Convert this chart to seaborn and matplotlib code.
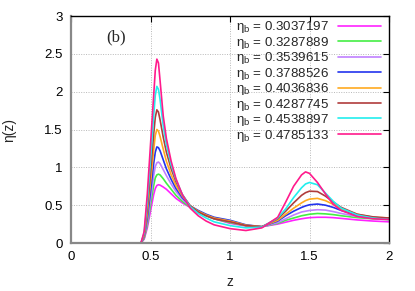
import matplotlib
matplotlib.use("Agg")
import matplotlib.pyplot as plt
import seaborn as sns
import pandas as pd

z = [0.0, 0.44, 0.46, 0.48, 0.50, 0.52, 0.53, 0.54, 0.55, 0.56, 0.58, 0.60, 0.63, 0.66,
     0.70, 0.75, 0.80, 0.85, 0.90, 1.0, 1.1, 1.2, 1.3, 1.35, 1.4, 1.45, 1.475, 1.5, 1.55,
     1.6, 1.65, 1.7, 1.8, 1.9, 2.0]

eta_b = ["0.3037197", "0.3287889", "0.3539615", "0.3788526",
         "0.4036836", "0.4287745", "0.4538897", "0.4785133"]

eta_1 = [0, 0, 0.05, 0.20, 0.42, 0.64, 0.72, 0.76, 0.77, 0.765, 0.74, 0.71, 0.65, 0.59,
         0.53, 0.47, 0.41, 0.36, 0.32, 0.26, 0.225, 0.215, 0.25, 0.275, 0.30, 0.32, 0.328,
         0.335, 0.34, 0.34, 0.335, 0.325, 0.305, 0.29, 0.28]
eta_2 = [0, 0, 0.06, 0.24, 0.50, 0.76, 0.86, 0.90, 0.91, 0.90, 0.85, 0.79, 0.71, 0.63,
         0.55, 0.47, 0.41, 0.36, 0.32, 0.27, 0.23, 0.215, 0.26, 0.30, 0.33, 0.36, 0.37,
         0.38, 0.39, 0.385, 0.375, 0.36, 0.335, 0.32, 0.31]
eta_3 = [0, 0, 0.07, 0.28, 0.58, 0.89, 1.01, 1.06, 1.07, 1.05, 0.97, 0.89, 0.78, 0.68,
         0.58, 0.48, 0.42, 0.37, 0.33, 0.28, 0.235, 0.215, 0.27, 0.32, 0.37, 0.41, 0.42,
         0.43, 0.44, 0.435, 0.415, 0.39, 0.35, 0.33, 0.32]
eta_4 = [0, 0, 0.08, 0.33, 0.68, 1.05, 1.20, 1.27, 1.26, 1.22, 1.10, 0.98, 0.84, 0.72,
         0.60, 0.49, 0.43, 0.38, 0.34, 0.30, 0.24, 0.215, 0.29, 0.36, 0.42, 0.47, 0.49,
         0.505, 0.515, 0.50, 0.47, 0.43, 0.37, 0.34, 0.32]
eta_5 = [0, 0, 0.09, 0.39, 0.80, 1.23, 1.42, 1.50, 1.48, 1.41, 1.24, 1.08, 0.90, 0.76,
         0.62, 0.49, 0.42, 0.37, 0.33, 0.29, 0.235, 0.215, 0.30, 0.38, 0.46, 0.53, 0.56,
         0.58, 0.59, 0.56, 0.51, 0.45, 0.38, 0.34, 0.33]
eta_6 = [0, 0, 0.11, 0.46, 0.93, 1.44, 1.66, 1.76, 1.73, 1.63, 1.40, 1.20, 0.98, 0.81,
         0.64, 0.49, 0.41, 0.36, 0.32, 0.28, 0.23, 0.215, 0.32, 0.42, 0.53, 0.63, 0.665,
         0.685, 0.68, 0.62, 0.54, 0.47, 0.38, 0.345, 0.33]
eta_7 = [0, 0, 0.13, 0.54, 1.10, 1.68, 1.95, 2.07, 2.03, 1.90, 1.55, 1.30, 1.03, 0.84,
         0.64, 0.48, 0.39, 0.33, 0.28, 0.23, 0.20, 0.21, 0.33, 0.45, 0.60, 0.73, 0.78,
         0.80, 0.77, 0.66, 0.55, 0.46, 0.37, 0.33, 0.31]
eta_8 = [0, 0, 0.15, 0.65, 1.30, 1.95, 2.28, 2.43, 2.38, 2.15, 1.68, 1.38, 1.08, 0.85,
         0.64, 0.46, 0.36, 0.29, 0.24, 0.19, 0.165, 0.20, 0.34, 0.54, 0.75, 0.90, 0.94,
         0.92, 0.80, 0.65, 0.51, 0.43, 0.35, 0.32, 0.31]

series = [eta_1, eta_2, eta_3, eta_4, eta_5, eta_6, eta_7, eta_8]
colors = ['#ff22ff', '#44ee44', '#c080ff', '#2233ee',
          '#ffaa20', '#b03c3c', '#22eeee', '#ff1a8c']

labels = [r"$\mathregular{\eta_b}$ = " + v for v in eta_b]
rows = []
for lab, vals in zip(labels, series):
    for zi, vi in zip(z, vals):
        rows.append({"z": zi, "eta": vi, "label": lab})
df = pd.DataFrame(rows)

sns.set_theme(style="white")
plt.rcParams['font.family'] = ['Liberation Sans', 'DejaVu Sans']
plt.rcParams['mathtext.fontset'] = 'custom'
plt.rcParams['mathtext.rm'] = 'Liberation Sans'
plt.rcParams['mathtext.it'] = 'Liberation Sans'

fig = plt.figure(figsize=(4.15, 2.91), dpi=100)
ax = fig.add_axes([71/415, 1-243/291, (389-71)/415, (243-16)/291])

sns.lineplot(data=df, x="z", y="eta", hue="label", palette=colors, ax=ax,
             sort=False, estimator=None, lw=1.2, legend=True)

ax.set_xlim(0, 2)
ax.set_ylim(0, 3)
ax.set_xticks([0, 0.5, 1, 1.5, 2])
ax.set_xticklabels(["0", "0.5", "1", "1.5", "2"])
ax.set_yticks([0, 0.5, 1, 1.5, 2, 2.5, 3])
ax.set_yticklabels(["0", "0.5", "1", "1.5", "2", "2.5", "3"])
ax.grid(True, color='#b8b8b8', linestyle=(0, (1, 1.5)), lw=0.7)
ax.tick_params(direction='in', length=4, width=0.8, top=True, right=True,
               labelsize=9.5, pad=6, colors='black')
for s in ['left', 'bottom']:
    ax.spines[s].set_color('#888888')
    ax.spines[s].set_linewidth(1.6)
for s in ['top', 'right']:
    ax.spines[s].set_color('black')
    ax.spines[s].set_linewidth(1.0)

ax.set_xlabel("z", fontsize=10)
ax.set_ylabel("η(z)", fontsize=10)
ax.xaxis.set_label_coords(0.5, -0.14)
ax.yaxis.set_label_coords(-0.172, 0.5)

ax.text(0.283, 2.72, "(b)", family=['Liberation Serif'], fontsize=12,
        ha='center', va='center')

leg = ax.legend(loc='upper right', bbox_to_anchor=(0.985, 1.0), frameon=False,
                markerfirst=False, fontsize=9.6, handlelength=3.2, handletextpad=0.7,
                labelspacing=-0.04, borderpad=0.25, borderaxespad=0)

fig.savefig("out.png", dpi=100)
